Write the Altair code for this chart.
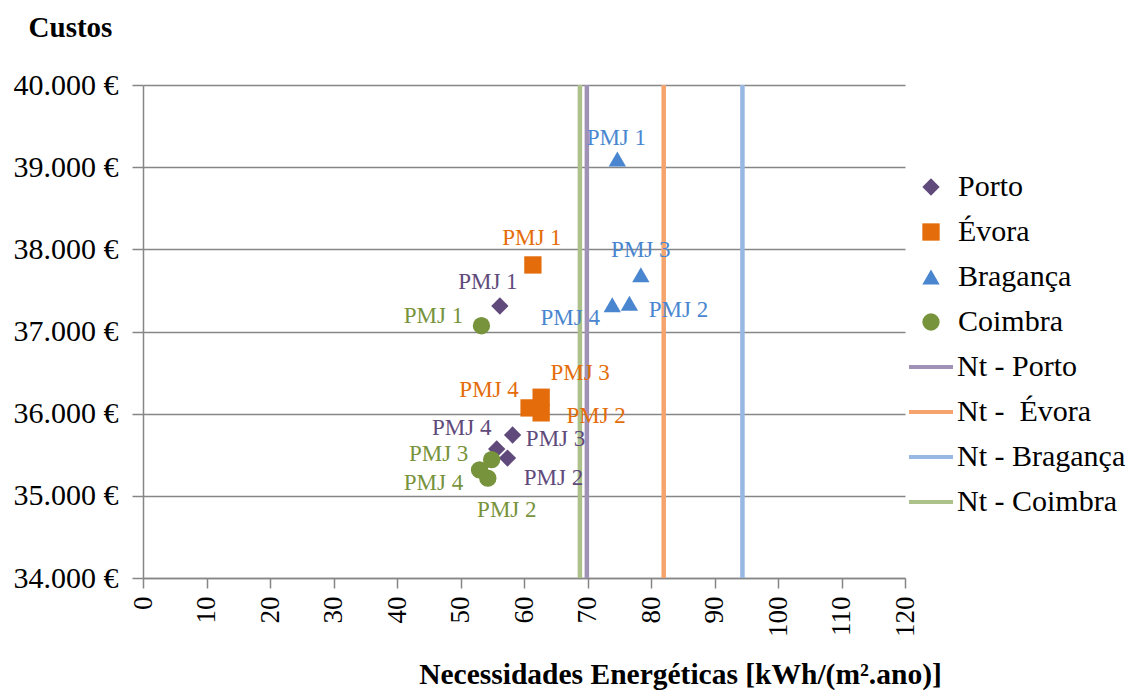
import altair as alt
import pandas as pd

# ---- data -------------------------------------------------------------
cities = ["Porto", "Évora", "Bragança", "Coimbra"]
variants = ["PMJ 1", "PMJ 2", "PMJ 3", "PMJ 4"]

# energy needs [kWh/(m².ano)] and cost [€] for PMJ 1..4 in each city
porto_energy = [56.2, 57.4, 58.2, 55.7]
porto_cost = [37310, 35460, 35740, 35570]
evora_energy = [61.4, 62.7, 62.7, 60.8]
evora_cost = [37810, 36010, 36200, 36070]
braganca_energy = [74.7, 76.6, 78.4, 73.9]
braganca_cost = [39100, 37345, 37690, 37325]
coimbra_energy = [53.3, 54.3, 54.9, 53.0]
coimbra_cost = [37070, 35215, 35440, 35315]

# regulatory limits Nt per city (non-breaking space keeps the double gap)
nt_names = ["Nt - Porto", "Nt - \u00a0Évora", "Nt - Bragança", "Nt - Coimbra"]
nt_values = [69.9, 82.0, 94.4, 68.8]

# ---- styling ----------------------------------------------------------
FONT = "Liberation Serif"
GRID = "#868686"
marker_colors = ["#604A7B", "#E46C0A", "#4A86D0", "#77933C"]
marker_shapes = ["diamond", "square", "triangle-up", "circle"]
line_colors = ["#A092B7", "#F4A46C", "#96B8E3", "#ADC28A"]

# label offsets (px) from each point, keyed by city and variant
label_offsets = {
    ("Porto", "PMJ 1"): (-12, -24), ("Porto", "PMJ 2"): (46, 20),
    ("Porto", "PMJ 3"): (43, 4), ("Porto", "PMJ 4"): (-35, -21),
    ("Évora", "PMJ 1"): (-1, -27), ("Évora", "PMJ 2"): (55, 3),
    ("Évora", "PMJ 3"): (39, -24), ("Évora", "PMJ 4"): (-40, -18),
    ("Bragança", "PMJ 1"): (-1, -21), ("Bragança", "PMJ 2"): (49, 7),
    ("Bragança", "PMJ 3"): (0, -25), ("Bragança", "PMJ 4"): (-42, 13),
    ("Coimbra", "PMJ 1"): (-48, -10), ("Coimbra", "PMJ 2"): (19, 32),
    ("Coimbra", "PMJ 3"): (-53, -6), ("Coimbra", "PMJ 4"): (-46, 13),
}

energy = [porto_energy, evora_energy, braganca_energy, coimbra_energy]
cost = [porto_cost, evora_cost, braganca_cost, coimbra_cost]
rows = []
for c, city in enumerate(cities):
    for v, var in enumerate(variants):
        rows.append({"city": city, "variant": var,
                     "energy": energy[c][v], "cost": cost[c][v]})
points_df = pd.DataFrame(rows)
nt_df = pd.DataFrame({"name": nt_names, "nt": nt_values})

x_scale = alt.Scale(domain=[0, 120], nice=False, zero=False)
y_scale = alt.Scale(domain=[34000, 40000], nice=False, zero=False)

x_axis = alt.Axis(
    values=list(range(0, 121, 10)), labelAngle=270, labelFontSize=27,
    labelPadding=8, tickSize=10, grid=False,
    title="Necessidades Energéticas [kWh/(m².ano)]",
    titleFontSize=29.5, titleFontWeight="bold", titleX=537, titleY=105,
    titleAlign="center", titleBaseline="alphabetic",
)
y_axis = alt.Axis(
    values=list(range(34000, 40001, 1000)), labelFontSize=30,
    labelPadding=14, tickSize=11, grid=True,
    labelExpr="replace(format(datum.value, ',.0f'), ',', '.') + ' €'",
    title="Custos", titleAngle=0, titleFontSize=29, titleFontWeight="bold",
    titleX=-73, titleY=-49, titleAlign="center", titleBaseline="alphabetic",
)

point_legend = alt.Legend(
    orient="none", legendX=773, legendY=87, title=None, padding=0,
    symbolSize=300, symbolStrokeWidth=0, labelFontSize=30, labelOffset=12,
    rowPadding=15, labelFont=FONT, labelLimit=400,
)
line_legend = alt.Legend(
    orient="none", legendX=764, legendY=258, title=None, padding=0,
    symbolType="stroke", symbolSize=1936, symbolStrokeWidth=4,
    labelFontSize=30, labelOffset=2, rowPadding=6, labelFont=FONT,
    labelLimit=400,
)

base = alt.Chart(points_df)

limit_lines = alt.Chart(nt_df).mark_rule(strokeWidth=4.5).encode(
    x=alt.X("nt:Q", scale=x_scale, axis=x_axis),
    stroke=alt.Stroke("name:N", scale=alt.Scale(domain=nt_names, range=line_colors),
                      legend=line_legend),
)

points = base.mark_point(filled=True, size=300, opacity=1).encode(
    x=alt.X("energy:Q", scale=x_scale, axis=x_axis),
    y=alt.Y("cost:Q", scale=y_scale, axis=y_axis),
    color=alt.Color("city:N", scale=alt.Scale(domain=cities, range=marker_colors),
                    legend=point_legend),
    shape=alt.Shape("city:N", scale=alt.Scale(domain=cities, range=marker_shapes),
                    legend=point_legend),
)

labels = []
for c, city in enumerate(cities):
    for var in variants:
        dx, dy = label_offsets[(city, var)]
        labels.append(
            base.transform_filter(
                (alt.datum.city == city) & (alt.datum.variant == var)
            ).mark_text(
                font=FONT, fontSize=23, dx=dx, dy=dy, align="center",
                baseline="middle", color=marker_colors[c],
            ).encode(
                x=alt.X("energy:Q", scale=x_scale),
                y=alt.Y("cost:Q", scale=y_scale),
                text="variant:N",
            )
        )

chart = alt.layer(limit_lines, points, *labels).properties(
    width=762, height=493,
    autosize=alt.AutoSizeParams(type="none"),
    padding={"left": 143, "top": 85, "right": 223, "bottom": 115},
).configure(font=FONT).configure_view(stroke=None).configure_axis(
    labelFont=FONT, titleFont=FONT, labelColor="black", titleColor="black",
    domainColor=GRID, domainWidth=1.5, tickColor=GRID, tickWidth=1.5,
    gridColor=GRID, gridWidth=1.4, gridOpacity=1,
).configure_legend(labelColor="black", labelFont=FONT)

chart.save("out.html", embed_options={"renderer": "svg", "actions": False})
